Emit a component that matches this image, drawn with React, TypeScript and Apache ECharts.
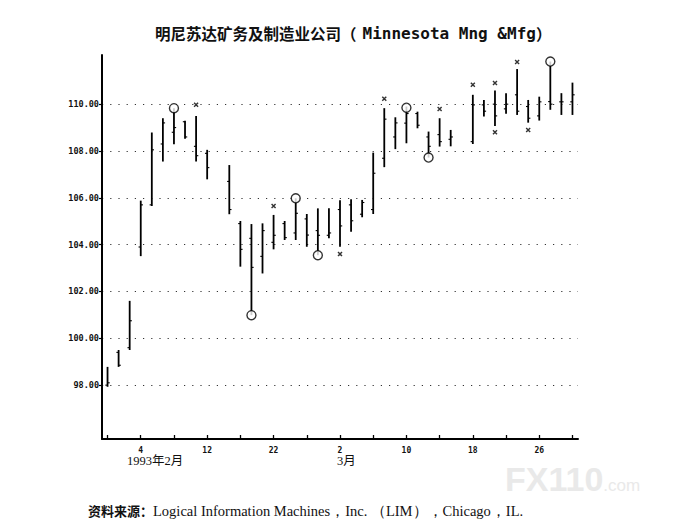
import React, { useEffect, useRef } from 'react';
import * as echarts from 'echarts';

// Trading days, Feb–Mar 1993 (month-day)
const tradingDays: string[] = [
  '2-1', '2-2', '2-3', '2-4', '2-5', '2-8', '2-9', '2-10', '2-11', '2-12',
  '2-15', '2-16', '2-17', '2-18', '2-19', '2-22', '2-23', '2-24', '2-25', '2-26',
  '3-1', '3-2', '3-3', '3-4', '3-5', '3-8', '3-9', '3-10', '3-11', '3-12',
  '3-15', '3-16', '3-17', '3-18', '3-19', '3-22', '3-23', '3-24', '3-25', '3-26',
  '3-29', '3-30', '3-31',
];

const opens: (number | null)[] = [
  98.0, 99.4, 99.6, 103.9, 105.7, 108.3, 108.8, 109.25, 108.2, 107.9,
  null, 106.7, 104.9, 104.27, 103.5, 104.1, 104.9, 104.5, 105.1, 104.6,
  104.4, 105.5, 105.7, 105.3, 105.5, 107.69, 108.6, 109.19, 109.6, 108.6,
  108.7, 108.5, null, 108.4, 109.97, 110.0, 109.8, 110.4, 109.9, 109.5,
  110.11, 110.1, 110.1,
];
const closes: (number | null)[] = [
  98.1, 98.85, 100.75, 105.7, 108.05, 109.2, 109.0, 108.6, 107.8, 107.29,
  null, 105.5, 103.8, 103.03, 104.6, 104.4, 104.3, 105.34, 104.41, 104.4,
  104.5, 104.8, 105.02, 105.8, 107.05, 109.36, 109.2, 109.6, 109.1, 108.2,
  108.4, 108.6, null, 109.97, 109.7, 109.5, 110.0, 109.7, 109.4, 110.1,
  110.0, 110.1, 110.4,
];
const lows: (number | null)[] = [
  97.93, 98.78, 99.5, 103.51, 105.65, 107.55, 108.29, 108.52, 107.55, 106.79,
  null, 105.3, 103.06, 100.99, 102.77, 103.8, 104.2, 104.2, 103.91, 103.55,
  104.27, 103.91, 104.55, 105.17, 105.31, 107.31, 108.08, 108.33, 108.97, 107.72,
  108.19, 108.2, null, 108.3, 109.47, 109.07, 109.59, 109.54, 109.21, 109.3,
  109.76, 109.54, 109.54,
];
const highs: (number | null)[] = [
  98.78, 99.5, 101.6, 105.88, 108.79, 109.4, 109.83, 109.29, 109.5, 108.05,
  null, 107.4, 105.01, 104.88, 104.91, 105.27, 105.01, 105.98, 105.31, 105.55,
  105.55, 105.9, 105.94, 105.91, 107.93, 109.83, 109.44, 109.9, 109.68, 108.83,
  109.4, 108.9, null, 110.4, 110.18, 110.58, 110.47, 111.5, 110.18, 110.32,
  111.82, 110.47, 110.92,
];

// Circle markers (day index, price)
const circleDays: number[] = [6, 13, 17, 19, 27, 29, 40];
const circleValues: number[] = [109.83, 100.99, 105.98, 103.55, 109.85, 107.72, 111.82];

// Cross markers (day index, price)
const crossDays: number[] = [8, 15, 21, 25, 30, 33, 35, 35, 37, 38];
const crossValues: number[] = [109.97, 105.65, 103.6, 110.23, 109.79, 110.83, 110.9, 108.8, 111.8, 108.9];

const priceTicks: number[] = [98, 100, 102, 104, 106, 108, 110];

const titleCn = '明尼苏达矿务及制造业公司（';
const titleEn = 'Minnesota Mng &Mfg';
const sourceLabel = '资料来源：';
const sourceText = 'Logical Information Machines，Inc. （LIM），Chicago，IL.';

export default function App() {
  const ref = useRef<HTMLDivElement>(null);

  useEffect(() => {
    if (!ref.current) return;
    const chart = echarts.init(ref.current, undefined, { renderer: 'svg' });

    const ohlc: any[] = [];
    tradingDays.forEach((_, i) => {
      if (opens[i] == null) return;
      ohlc.push([i, opens[i], closes[i], lows[i], highs[i]]);
    });

    const mono = 'DejaVu Sans Mono';
    const serif = 'Liberation Serif, Noto Sans CJK SC';

    chart.setOption({
      animation: false,
      backgroundColor: '#ffffff',
      title: {
        left: 150,
        top: 20,
        text: '{a|' + titleCn + '}{b|' + titleEn + '}{a|）}',
        textStyle: {
          rich: {
            a: { fontFamily: 'Noto Sans CJK SC', fontWeight: 'bold', fontSize: 15.5, color: '#111' },
            b: { fontFamily: mono, fontWeight: 'bold', fontSize: 16, color: '#111', padding: [0, 0, 0, 6] },
          },
        },
      },
      grid: { left: 102, top: 55, right: 106, bottom: 91, containLabel: false },
      xAxis: {
        type: 'category',
        data: tradingDays,
        boundaryGap: true,
        axisLine: { show: true, lineStyle: { color: '#000', width: 2 } },
        axisTick: {
          show: true,
          inside: true,
          length: 4,
          alignWithLabel: true,
          interval: (i: number) => i % 3 === 0,
          lineStyle: { color: '#000', width: 1.3 },
        },
        axisLabel: {
          interval: (i: number) => i % 6 === 3,
          formatter: (v: string) => v.split('-')[1],
          fontFamily: mono,
          fontWeight: 'bold',
          fontSize: 8,
          color: '#111',
          margin: 7,
        },
        splitLine: { show: false },
      },
      yAxis: {
        type: 'value',
        min: 95.7,
        max: 112.1,
        axisLine: { show: true, lineStyle: { color: '#000', width: 2 } },
        axisTick: {
          show: true,
          length: 3,
          customValues: priceTicks,
          lineStyle: { color: '#000', width: 1.2 },
        },
        axisLabel: {
          customValues: priceTicks,
          formatter: (v: number) => v.toFixed(2),
          fontFamily: mono,
          fontWeight: 'bold',
          fontSize: 8.5,
          color: '#111',
          margin: 3,
        },
        splitLine: {
          show: true,
          lineStyle: { color: '#333', width: 1.2, type: [1.2, 7] },
        },
      },
      series: [
        {
          type: 'custom',
          data: ohlc,
          encode: { x: 0, y: [1, 2, 3, 4] },
          renderItem: (params: any, api: any) => {
            const x = api.value(0);
            const pLow = api.coord([x, api.value(3)]);
            const pHigh = api.coord([x, api.value(4)]);
            const pOpen = api.coord([x, api.value(1)]);
            const pClose = api.coord([x, api.value(2)]);
            const st = { stroke: '#000', lineWidth: 1.8 };
            const tk = { stroke: '#000', lineWidth: 1.1 };
            return {
              type: 'group',
              children: [
                { type: 'line', shape: { x1: pLow[0], y1: pLow[1], x2: pHigh[0], y2: pHigh[1] }, style: st },
                { type: 'line', shape: { x1: pOpen[0] - 2.2, y1: pOpen[1], x2: pOpen[0], y2: pOpen[1] }, style: tk },
                { type: 'line', shape: { x1: pClose[0], y1: pClose[1], x2: pClose[0] + 2.2, y2: pClose[1] }, style: tk },
              ],
            };
          },
          z: 3,
        },
        {
          type: 'scatter',
          data: circleDays.map((d, i) => [d, circleValues[i]]),
          symbol: 'circle',
          symbolSize: 9,
          itemStyle: { color: '#fff', borderColor: '#000', borderWidth: 1.4 },
          z: 4,
        },
        {
          type: 'scatter',
          data: crossDays.map((d, i) => [d, crossValues[i]]),
          symbol: 'path://M0,2L2,0L10,8L8,10Z M8,0L10,2L2,10L0,8Z',
          symbolSize: 5,
          itemStyle: { color: '#000' },
          z: 4,
        },
      ],
      graphic: [
        {
          type: 'text',
          left: 127,
          top: 455,
          style: { text: '1993年2月', font: '12.5px ' + serif, fill: '#111' },
        },
        {
          type: 'text',
          left: 337,
          top: 455,
          style: { text: '3月', font: '12.5px ' + serif, fill: '#111' },
        },
        {
          type: 'text',
          left: 88,
          top: 503,
          style: {
            text: '{a|' + sourceLabel + '}{b|' + sourceText + '}',
            rich: {
              a: { fontFamily: 'Noto Sans CJK SC', fontWeight: 'bold', fontSize: 13, fill: '#111' },
              b: { fontFamily: 'Liberation Serif', fontSize: 14.5, fill: '#111' },
            },
          },
        },
        {
          type: 'text',
          left: 505,
          top: 462,
          style: {
            text: '{a|FX110}{b|.com}',
            rich: {
              a: { fontFamily: 'Liberation Sans', fontWeight: 'bold', fontSize: 34, fill: '#e9e9e9' },
              b: { fontFamily: 'Liberation Sans', fontSize: 17, fill: '#e9e9e9', padding: [12, 0, 0, 0] },
            },
          },
          z: -1,
        },
      ],
    });

    return () => chart.dispose();
  }, []);

  return (
    <div
      ref={ref}
      style={{ position: 'fixed', left: 0, top: 0, width: 684, height: 530, background: '#fff' }}
    />
  );
}
